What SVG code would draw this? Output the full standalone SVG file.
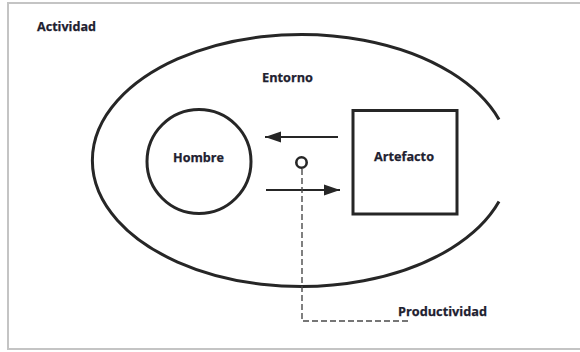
<svg xmlns="http://www.w3.org/2000/svg" width="580" height="352" viewBox="0 0 580 352">
  <style>
    .lbl { font-family: "Open Sans", "Liberation Sans", sans-serif; font-weight: bold; font-size: 13px; fill: #1e2130; stroke: #1e2130; stroke-width: 0.25; }
    .shape { fill: none; stroke: #262626; }
    .conn { stroke: #262626; stroke-width: 2.2; fill: none; }
    .dash { stroke: #4a4a4a; stroke-width: 1.4; fill: none; stroke-dasharray: 6 3; }
  </style>
  <defs>
    <marker id="arrow" markerUnits="userSpaceOnUse" markerWidth="18" markerHeight="12" refX="16" refY="6" orient="auto">
      <path d="M0,0.5 L16,6 L0,11.5 Z" fill="#262626"/>
    </marker>
  </defs>
  <rect x="0" y="0" width="580" height="352" fill="#ffffff"/>
  <rect id="frame" x="8" y="3" width="600" height="346" fill="none" stroke="#c4c4c4" stroke-width="2"/>
  <g id="actividad">
    <text class="lbl" x="37" y="31" textLength="59" lengthAdjust="spacingAndGlyphs">Actividad</text>
  </g>
  <g id="entorno">
    <path class="shape" stroke-width="3" d="M 499 119.5 A 209 126 0 1 0 499 201.5"/>
    <text class="lbl" x="262" y="82" textLength="51" lengthAdjust="spacingAndGlyphs">Entorno</text>
  </g>
  <g id="hombre">
    <circle class="shape" stroke-width="3" cx="199" cy="161.5" r="52"/>
    <text class="lbl" x="173" y="162" textLength="51" lengthAdjust="spacingAndGlyphs">Hombre</text>
  </g>
  <g id="artefacto">
    <rect class="shape" stroke-width="3" x="353" y="110.5" width="104" height="103.5"/>
    <text class="lbl" x="374" y="161" textLength="60" lengthAdjust="spacingAndGlyphs">Artefacto</text>
  </g>
  <g id="punto">
    <circle class="shape" stroke-width="2.6" cx="301.5" cy="162.5" r="5.2"/>
  </g>
  <g id="productividad">
    <text class="lbl" x="398" y="316" textLength="89" lengthAdjust="spacingAndGlyphs">Productividad</text>
  </g>
  <g id="connectors">
    <line class="conn" x1="338" y1="137" x2="265" y2="137" marker-end="url(#arrow)"/>
    <line class="conn" x1="266" y1="190" x2="340" y2="190" marker-end="url(#arrow)"/>
    <path class="dash" d="M 302 169 V 321 H 408"/>
  </g>
</svg>
